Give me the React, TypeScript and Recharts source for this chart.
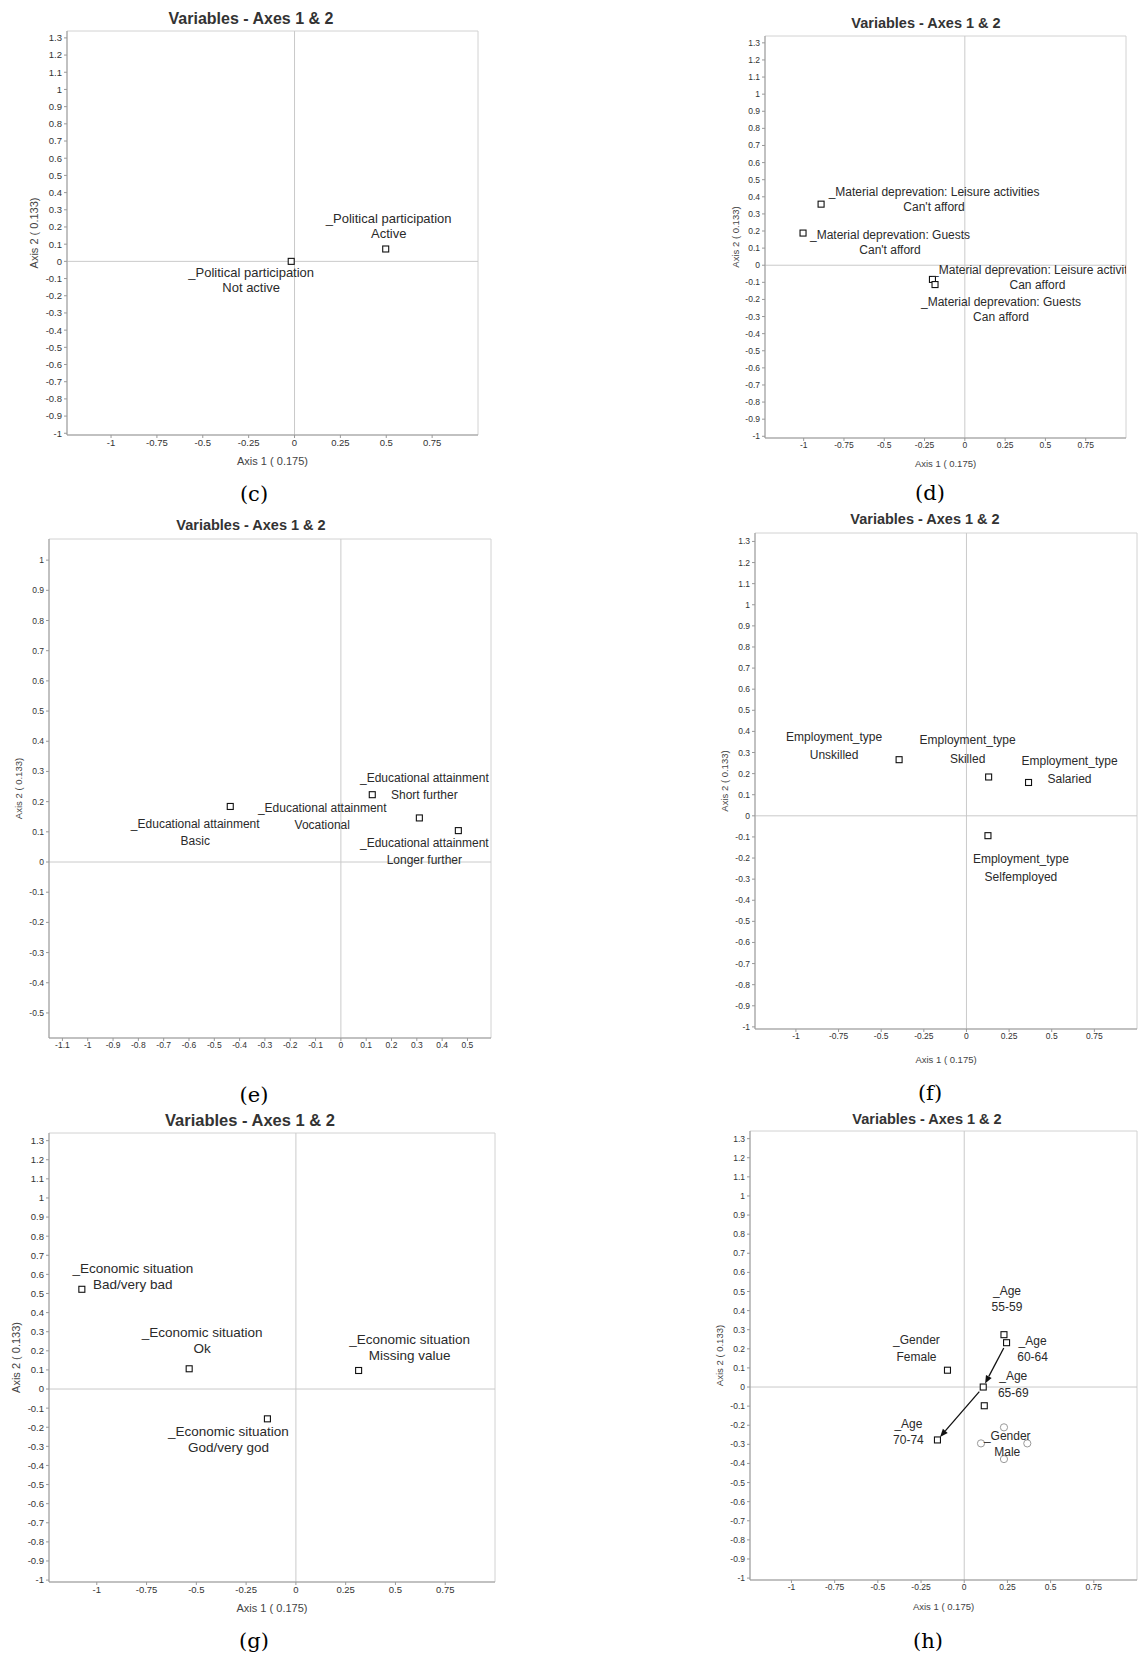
import React from 'react';
import { ScatterChart, Scatter, XAxis, YAxis, ReferenceLine, ReferenceArea, Label } from 'recharts';

// ---------- shared ticks ----------
const X_TICKS_STD = [-1, -0.75, -0.5, -0.25, 0, 0.25, 0.5, 0.75];
const Y_TICKS_STD = [1.3, 1.2, 1.1, 1, 0.9, 0.8, 0.7, 0.6, 0.5, 0.4, 0.3, 0.2, 0.1, 0, -0.1, -0.2, -0.3, -0.4, -0.5, -0.6, -0.7, -0.8, -0.9, -1];
const X_TICKS_E = [-1.1, -1, -0.9, -0.8, -0.7, -0.6, -0.5, -0.4, -0.3, -0.2, -0.1, 0, 0.1, 0.2, 0.3, 0.4, 0.5];
const Y_TICKS_E = [1, 0.9, 0.8, 0.7, 0.6, 0.5, 0.4, 0.3, 0.2, 0.1, 0, -0.1, -0.2, -0.3, -0.4, -0.5];
const TITLE = 'Variables - Axes 1 & 2';
const AXIS1_TITLE = 'Axis 1 ( 0.175)';
const AXIS2_TITLE = 'Axis 2 ( 0.133)';

// ---------- (c) political participation ----------
const cVariable = ['_Political participation', '_Political participation'];
const cLevels = ['Not active', 'Active'];
const cAxis1 = [-0.018, 0.497];
const cAxis2 = [0.0, 0.072];

// ---------- (d) material deprivation ----------
const dVariable = [
  '_Material deprevation: Leisure activities',
  '_Material deprevation: Guests',
  '_Material deprevation: Leisure activities',
  '_Material deprevation: Guests',
];
const dLevels = ["Can't afford", "Can't afford", 'Can afford', 'Can afford'];
const dAxis1 = [-0.892, -1.004, -0.201, -0.185];
const dAxis2 = [0.357, 0.188, -0.083, -0.113];

// ---------- (e) educational attainment ----------
const eVariable = ['_Educational attainment', '_Educational attainment', '_Educational attainment', '_Educational attainment'];
const eLevels = ['Basic', 'Vocational', 'Short further', 'Longer further'];
const eAxis1 = [-0.437, 0.124, 0.31, 0.464];
const eAxis2 = [0.184, 0.223, 0.146, 0.104];

// ---------- (f) employment type ----------
const fVariable = ['Employment_type', 'Employment_type', 'Employment_type', 'Employment_type'];
const fLevels = ['Unskilled', 'Skilled', 'Salaried', 'Selfemployed'];
const fAxis1 = [-0.395, 0.13, 0.364, 0.126];
const fAxis2 = [0.266, 0.184, 0.158, -0.094];

// ---------- (g) economic situation ----------
const gVariable = ['_Economic situation', '_Economic situation', '_Economic situation', '_Economic situation'];
const gLevels = ['Bad/very bad', 'Ok', 'God/very god', 'Missing value'];
const gAxis1 = [-1.075, -0.536, -0.143, 0.315];
const gAxis2 = [0.522, 0.106, -0.156, 0.097];

// ---------- (h) age & gender ----------
const hVariable = ['_Age', '_Age', '_Age', '_Age', '_Gender', '_Gender'];
const hLevels = ['55-59', '60-64', '65-69', '70-74', 'Female', 'Male'];
const hAxis1 = [0.23, 0.245, 0.11, -0.155, -0.097, 0.116];
const hAxis2 = [0.274, 0.232, 0.0, -0.277, 0.088, -0.098];
const hSupAxis1 = [0.23, 0.097, 0.365, 0.23];
const hSupAxis2 = [-0.211, -0.295, -0.295, -0.377];
const hArrowFrom = [1, 2];
const hArrowTo = [2, 3];

// ---------- layout (label offsets in px, relative to the marker) ----------
const cLabelPos = [[-40, 11], [3, -31]];
const dLabelPos = [[113, -12], [87, 2], [105, -10], [66, 17]];
const eLabelPos = [[-35, 17], [-50, 13], [5, -40], [-34, 12]];
const fLabelPos = [[-65, -23], [-21, -37], [41, -22], [33, 23]];
const gLabelPos = [[51, -21], [13, -36], [-39, 12], [51, -31]];
const hLabelPos = [[3, -44], [26, -2], [30, -11], [-29, -16], [-31, -30], [23, 30]];

const FONT = '"Liberation Sans", Arial, sans-serif';

function build(vars: string[], levels: string[], xs: number[], ys: number[], pos: number[][]) {
  return xs.map((x, i) => ({ x, y: ys[i], l1: vars[i], l2: levels[i], dx: pos[i][0], dy: pos[i][1] }));
}

const fmt = (v: number) => String(v);

function makeSquare(fontSize: number, gap: number) {
  return (props: any) => {
    const { cx, cy, payload } = props;
    if (cx == null || cy == null) return null;
    return (
      <g>
        <rect x={cx - 3} y={cy - 3} width={6} height={6} fill="#fff" stroke="#111" strokeWidth={1.1} />
        <text x={cx + payload.dx} y={cy + payload.dy} dy="0.35em" textAnchor="middle" fontSize={fontSize} fontFamily={FONT} fill="#2a2a2a">
          {payload.l1}
        </text>
        <text x={cx + payload.dx} y={cy + payload.dy + gap} dy="0.35em" textAnchor="middle" fontSize={fontSize} fontFamily={FONT} fill="#2a2a2a">
          {payload.l2}
        </text>
      </g>
    );
  };
}

const circleShape = (props: any) => {
  const { cx, cy } = props;
  if (cx == null || cy == null) return null;
  return <circle cx={cx} cy={cy} r={3.6} fill="#fff" stroke="#9a9a9a" strokeWidth={1} />;
};

const arrowShape = (props: any) => {
  const { x1, y1, x2, y2 } = props;
  if ([x1, y1, x2, y2].some((v) => v == null || isNaN(v))) return null;
  const dx = x2 - x1;
  const dy = y2 - y1;
  const L = Math.hypot(dx, dy) || 1;
  const ux = dx / L;
  const uy = dy / L;
  const sx = x1 + ux * 6;
  const sy = y1 + uy * 6;
  const ex = x2 - ux * 4;
  const ey = y2 - uy * 4;
  const hl = 8;
  const hw = 3.2;
  const bx = ex - ux * hl;
  const by = ey - uy * hl;
  const pts = `${ex},${ey} ${bx - uy * hw},${by + ux * hw} ${bx + uy * hw},${by - ux * hw}`;
  return (
    <g>
      <line x1={sx} y1={sy} x2={bx} y2={by} stroke="#111" strokeWidth={1.3} />
      <polygon points={pts} fill="#111" />
    </g>
  );
};

type Cfg = {
  box: { l: number; t: number; r: number; b: number };
  xDomain: [number, number];
  yDomain: [number, number];
  xTicks: number[];
  yTicks: number[];
  points: any[];
  circles?: { x: number; y: number }[];
  arrows?: { x: number; y: number }[][];
  tickFont: number;
  axisFont: number;
  labelFont: number;
  gap: number;
  xTitle: boolean;
  yTitleOffset: number;
  xTitleOffset: number;
};

function Panel({ cfg }: { cfg: Cfg }) {
  const { box, xDomain, yDomain } = cfg;
  const W = box.r - box.l + 70;
  const H = box.b - box.t + 60;
  const tick = { fontSize: cfg.tickFont, fill: '#333', fontFamily: FONT };
  return (
    <div style={{ position: 'absolute', left: box.l - 60, top: box.t - 20 }}>
      <ScatterChart width={W} height={H} margin={{ top: 20, right: 10, bottom: 10, left: 10 }}>
        <XAxis
          type="number"
          dataKey="x"
          domain={xDomain}
          ticks={cfg.xTicks}
          interval={0}
          allowDataOverflow
          height={30}
          tickSize={3}
          tickMargin={1}
          tick={tick}
          tickFormatter={fmt}
          stroke="#999"
        >
          {cfg.xTitle ? (
            <Label value={AXIS1_TITLE} position="insideBottom" offset={cfg.xTitleOffset} fontSize={cfg.axisFont} fill="#444" fontFamily={FONT} />
          ) : null}
        </XAxis>
        <YAxis
          type="number"
          dataKey="y"
          domain={yDomain}
          ticks={cfg.yTicks}
          interval={0}
          allowDataOverflow
          width={50}
          tickSize={3}
          tickMargin={2}
          tick={tick}
          tickFormatter={fmt}
          stroke="#999"
        >
          <Label
            value={AXIS2_TITLE}
            angle={-90}
            position="insideLeft"
            offset={cfg.yTitleOffset}
            fontSize={cfg.axisFont}
            fill="#444"
            fontFamily={FONT}
            style={{ textAnchor: 'middle' }}
          />
        </YAxis>
        <ReferenceArea x1={xDomain[0]} x2={xDomain[1]} y1={yDomain[0]} y2={yDomain[1]} fill="none" stroke="#d2d2d2" ifOverflow="visible" />
        <ReferenceLine x={0} stroke="#cacaca" />
        <ReferenceLine y={0} stroke="#cacaca" />
        {(cfg.arrows || []).map((seg, i) => (
          <ReferenceLine key={'a' + i} segment={seg as any} shape={arrowShape} ifOverflow="visible" />
        ))}
        {cfg.circles ? <Scatter data={cfg.circles} shape={circleShape} isAnimationActive={false} /> : null}
        <Scatter data={cfg.points} shape={makeSquare(cfg.labelFont, cfg.gap)} isAnimationActive={false} />
      </ScatterChart>
    </div>
  );
}

const XD: [number, number] = [-1.24, 1.0];
const YD: [number, number] = [-1.01, 1.34];

const hPoints = build(hVariable, hLevels, hAxis1, hAxis2, hLabelPos);
const hCircles = hSupAxis1.map((x, i) => ({ x, y: hSupAxis2[i] }));
const hArrows = hArrowFrom.map((f, i) => [
  { x: hAxis1[f], y: hAxis2[f] },
  { x: hAxis1[hArrowTo[i]], y: hAxis2[hArrowTo[i]] },
]);

const panels: Cfg[] = [
  {
    box: { l: 67, t: 31, r: 478, b: 435 },
    xDomain: XD, yDomain: YD, xTicks: X_TICKS_STD, yTicks: Y_TICKS_STD,
    points: build(cVariable, cLevels, cAxis1, cAxis2, cLabelPos),
    tickFont: 9.5, axisFont: 11, labelFont: 13, gap: 15.5, xTitle: true, yTitleOffset: 17, xTitleOffset: 0,
  },
  {
    box: { l: 765, t: 36, r: 1126, b: 438 },
    xDomain: XD, yDomain: YD, xTicks: X_TICKS_STD, yTicks: Y_TICKS_STD,
    points: build(dVariable, dLevels, dAxis1, dAxis2, dLabelPos),
    tickFont: 8.5, axisFont: 9.5, labelFont: 12, gap: 15, xTitle: true, yTitleOffset: 21, xTitleOffset: 1,
  },
  {
    box: { l: 49, t: 539, r: 491, b: 1038 },
    xDomain: [-1.153, 0.593], yDomain: [-0.583, 1.07], xTicks: X_TICKS_E, yTicks: Y_TICKS_E,
    points: build(eVariable, eLevels, eAxis1, eAxis2, eLabelPos),
    tickFont: 8.5, axisFont: 9.5, labelFont: 12, gap: 17, xTitle: false, yTitleOffset: 20, xTitleOffset: 0,
  },
  {
    box: { l: 755, t: 533, r: 1137, b: 1029 },
    xDomain: XD, yDomain: YD, xTicks: X_TICKS_STD, yTicks: Y_TICKS_STD,
    points: build(fVariable, fLevels, fAxis1, fAxis2, fLabelPos),
    tickFont: 8.5, axisFont: 9.5, labelFont: 12, gap: 18.5, xTitle: true, yTitleOffset: 20, xTitleOffset: -4,
  },
  {
    box: { l: 49, t: 1133, r: 495, b: 1582 },
    xDomain: XD, yDomain: YD, xTicks: X_TICKS_STD, yTicks: Y_TICKS_STD,
    points: build(gVariable, gLevels, gAxis1, gAxis2, gLabelPos),
    tickFont: 9.5, axisFont: 11, labelFont: 13.5, gap: 16, xTitle: true, yTitleOffset: 17, xTitleOffset: 0,
  },
  {
    box: { l: 750, t: 1131, r: 1137, b: 1580 },
    xDomain: XD, yDomain: YD, xTicks: X_TICKS_STD, yTicks: Y_TICKS_STD,
    points: hPoints, circles: hCircles, arrows: hArrows,
    tickFont: 8.5, axisFont: 9.5, labelFont: 12, gap: 16.3, xTitle: true, yTitleOffset: 20, xTitleOffset: 0,
  },
];

const titles = [
  { x: 251, y: 19, size: 16 },
  { x: 926, y: 23, size: 14.5 },
  { x: 251, y: 525, size: 14.5 },
  { x: 925, y: 519, size: 14.5 },
  { x: 250, y: 1120, size: 16.5 },
  { x: 927, y: 1119, size: 14.5 },
];

const captions = [
  { text: '(c)', x: 254, y: 494 },
  { text: '(d)', x: 930, y: 493 },
  { text: '(e)', x: 254, y: 1095 },
  { text: '(f)', x: 930, y: 1093 },
  { text: '(g)', x: 254, y: 1641 },
  { text: '(h)', x: 928, y: 1641 },
];

export default function App() {
  return (
    <div style={{ position: 'absolute', left: 0, top: 0, width: 1140, height: 1659, background: '#fff', overflow: 'hidden' }}>
      {panels.map((p, i) => (
        <Panel key={i} cfg={p} />
      ))}
      {titles.map((t, i) => (
        <div
          key={'t' + i}
          style={{
            position: 'absolute', left: t.x, top: t.y, transform: 'translate(-50%, -50%)', whiteSpace: 'nowrap',
            fontFamily: '"Liberation Sans", Arial, sans-serif', fontWeight: 'bold', fontSize: t.size, color: '#333', lineHeight: 1,
          }}
        >
          {TITLE}
        </div>
      ))}
      {captions.map((c, i) => (
        <div
          key={'c' + i}
          style={{
            position: 'absolute', left: c.x, top: c.y, transform: 'translate(-50%, -50%)', whiteSpace: 'nowrap',
            fontFamily: '"DejaVu Serif", "Liberation Serif", serif', fontSize: 21, color: '#000', lineHeight: 1,
          }}
        >
          {c.text}
        </div>
      ))}
    </div>
  );
}
